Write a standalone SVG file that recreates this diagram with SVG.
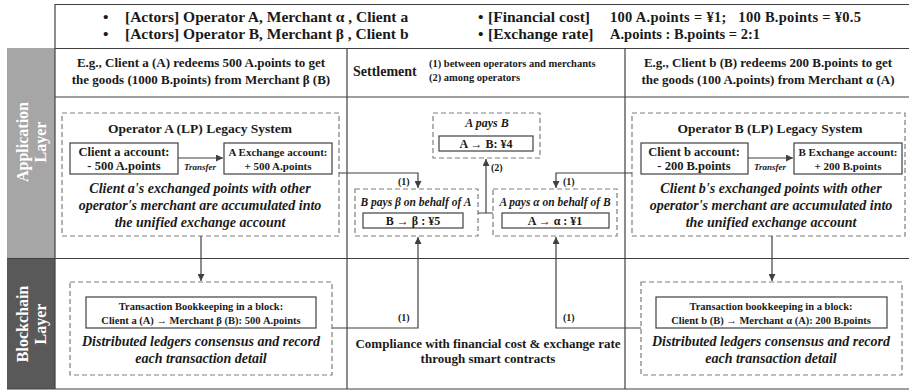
<svg xmlns="http://www.w3.org/2000/svg" width="909" height="391" viewBox="0 0 909 391">
<style>
text{font-family:"Liberation Serif","Times New Roman",serif;font-weight:bold;fill:#1a1a1a}
.c{text-anchor:middle}
.it{font-style:italic}
.grid{stroke:#404040;stroke-width:1.2;fill:none}
.dash{fill:none;stroke:#7f7f7f;stroke-width:1.2;stroke-dasharray:5 3}
.box{fill:#fff;stroke:#404040;stroke-width:1.2}
.con{fill:none;stroke:#404040;stroke-width:1.2}
.side{fill:#fff;font-size:16px}
</style>
<defs>
<marker id="ah" viewBox="0 0 10 10" refX="10" refY="5" markerWidth="7" markerHeight="7" markerUnits="userSpaceOnUse" orient="auto">
<path d="M0,0 L10,5 L0,10 z" fill="#404040"/>
</marker>
</defs>
<rect width="909" height="391" fill="#fff"/>
<g id="layers">
<rect x="7" y="48" width="48" height="210" fill="#a6a6a6"/>
<rect x="7" y="259" width="48" height="130" fill="#595959"/>
<text class="side c" transform="translate(28,142) rotate(-90)">Application</text>
<text class="side c" transform="translate(46,142) rotate(-90)">Layer</text>
<text class="side c" transform="translate(28,324) rotate(-90)">Blockchain</text>
<text class="side c" transform="translate(46,324) rotate(-90)">Layer</text>
</g>
<g id="table">
<path class="grid" d="M55 4.5H909M55 48.5H909M55 97H909M7 258.5H909M7 389H909M55 4V389M347 48V389M625 48V389"/>
</g>
<g id="header" font-size="15.5">
<text x="103" y="22">•</text>
<text x="125" y="22">[Actors] Operator A, Merchant α , Client a</text>
<text x="103" y="39">•</text>
<text x="125" y="39">[Actors] Operator B, Merchant β , Client b</text>
<text x="478" y="22">•</text>
<text x="488" y="22">[Financial cost]</text>
<text x="610" y="22" font-size="14.5" textLength="251" xml:space="preserve">100 A.points = ¥1;   100 B.points = ¥0.5</text>
<text x="478" y="39">•</text>
<text x="488" y="39">[Exchange rate]</text>
<text x="610" y="39" font-size="14.5">A.points : B.points = 2:1</text>
</g>
<g id="colheads" font-size="13">
<text class="c" x="201" y="67">E.g., Client a (A) redeems 500 A.points to get</text>
<text class="c" x="201" y="84">the goods (1000 B.points) from Merchant β (B)</text>
<text x="353" y="76" font-size="14">Settlement</text>
<text x="429" y="67" font-size="10.5">(1) between operators and merchants</text>
<text x="429" y="81" font-size="10.5">(2) among operators</text>
<text class="c" x="768" y="67">E.g., Client b (B) redeems 200 B.points to get</text>
<text class="c" x="768" y="84">the goods (100 A.points) from Merchant α (A)</text>
</g>
<g id="opA">
<rect class="dash" x="62" y="113" width="277" height="123"/>
<text class="c" x="200" y="133" font-size="13.5">Operator A (LP) Legacy System</text>
<rect class="box" x="70" y="143" width="108" height="31"/>
<text class="c" x="124" y="156" font-size="12.5">Client a account:</text>
<text class="c" x="124" y="170" font-size="12.5">- 500 A.points</text>
<rect class="box" x="224" y="143" width="108" height="31"/>
<text class="c" x="278" y="156" font-size="11">A Exchange account:</text>
<text class="c" x="278" y="170" font-size="11">+ 500 A.points</text>
<path class="con" d="M178 158H223" marker-end="url(#ah)"/>
<text class="c it" x="200" y="170" font-size="9" font-weight="normal">Transfer</text>
<text class="c it" x="200" y="193" font-size="14">Client a's exchanged points with other</text>
<text class="c it" x="200" y="210" font-size="14">operator's merchant are accumulated into</text>
<text class="c it" x="200" y="227" font-size="14">the unified exchange account</text>
</g>
<g id="opB">
<rect class="dash" x="632" y="113" width="273" height="123"/>
<text class="c" x="770" y="133" font-size="13.5">Operator B (LP) Legacy System</text>
<rect class="box" x="641" y="143" width="107" height="31"/>
<text class="c" x="694" y="156" font-size="12.5">Client b account:</text>
<text class="c" x="694" y="170" font-size="12.5">- 200 B.points</text>
<rect class="box" x="794" y="143" width="108" height="31"/>
<text class="c" x="848" y="156" font-size="11">B Exchange account:</text>
<text class="c" x="848" y="170" font-size="11">+ 200 B.points</text>
<path class="con" d="M748 158H793" marker-end="url(#ah)"/>
<text class="c it" x="770" y="170" font-size="9" font-weight="normal">Transfer</text>
<text class="c it" x="771" y="193" font-size="14">Client b's exchanged points with other</text>
<text class="c it" x="771" y="210" font-size="14">operator's merchant are accumulated into</text>
<text class="c it" x="771" y="227" font-size="14">the unified exchange account</text>
</g>
<g id="payAB">
<rect class="dash" x="433" y="113" width="107" height="45"/>
<text class="c it" x="487" y="127" font-size="12">A pays B</text>
<rect class="box" x="439" y="136" width="94" height="15"/>
<text class="c" x="486" y="148" font-size="12">A → B: ¥4</text>
</g>
<g id="payBbeta">
<rect class="dash" x="355" y="189" width="123" height="47"/>
<text class="c it" x="416" y="206" font-size="11.5">B pays β on behalf of A</text>
<rect class="box" x="363" y="213" width="100" height="15"/>
<text class="c" x="413" y="225" font-size="12">B → β : ¥5</text>
</g>
<g id="payAalpha">
<rect class="dash" x="493" y="189" width="124" height="47"/>
<text class="c it" x="555" y="206" font-size="11.5">A pays α on behalf of B</text>
<rect class="box" x="502" y="213" width="107" height="15"/>
<text class="c" x="555" y="225" font-size="12">A → α : ¥1</text>
</g>
<g id="chainA">
<rect class="dash" x="70" y="282" width="262" height="93"/>
<rect class="box" x="86" y="297" width="230" height="31"/>
<text class="c" x="201" y="310" font-size="10.5">Transaction Bookkeeping in a block:</text>
<text class="c" x="201" y="324" font-size="10.5">Client a (A) → Merchant β (B): 500 A.points</text>
<text class="c it" x="201" y="346" font-size="14">Distributed ledgers consensus and record</text>
<text class="c it" x="201" y="363" font-size="14">each transaction detail</text>
</g>
<g id="chainB">
<rect class="dash" x="641" y="282" width="261" height="93"/>
<rect class="box" x="656" y="297" width="231" height="31"/>
<text class="c" x="771" y="310" font-size="10.5">Transaction bookkeeping in a block:</text>
<text class="c" x="771" y="324" font-size="10.5">Client b (B) → Merchant α (A): 200 B.points</text>
<text class="c it" x="771" y="346" font-size="14">Distributed ledgers consensus and record</text>
<text class="c it" x="771" y="363" font-size="14">each transaction detail</text>
</g>
<g id="contracts">
<text class="c" x="488" y="348" font-size="13">Compliance with financial cost &amp; exchange rate</text>
<text class="c" x="488" y="363" font-size="13">through smart contracts</text>
</g>
<g id="connectors">
<path class="con" d="M201 236V281" marker-end="url(#ah)"/>
<path class="con" d="M772 236V281" marker-end="url(#ah)"/>
<path class="con" d="M339 173H418V188" marker-end="url(#ah)"/>
<path class="con" d="M632 173H556V188" marker-end="url(#ah)"/>
<path class="con" d="M478 213H493M486 213V159" marker-end="url(#ah)"/>
<path class="con" d="M332 328H418V237" marker-end="url(#ah)"/>
<path class="con" d="M641 328H556V237" marker-end="url(#ah)"/>
<g font-size="10">
<text x="398" y="185">(1)</text>
<text x="563" y="185">(1)</text>
<text x="491" y="171">(2)</text>
<text x="398" y="321">(1)</text>
<text x="563" y="321">(1)</text>
</g>
</g>
</svg>
